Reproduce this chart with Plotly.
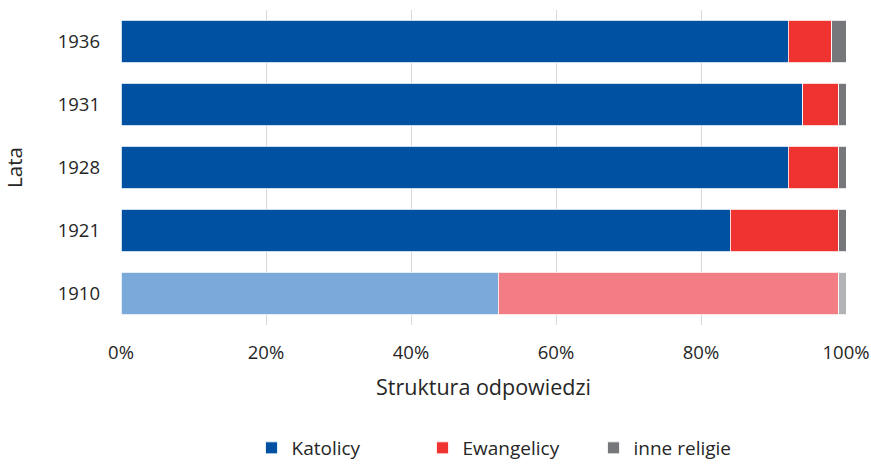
import plotly.graph_objects as go

years = ["1910", "1921", "1928", "1931", "1936"]
katolicy = [52, 84, 92, 94, 92]
ewangelicy = [47, 15, 7, 5, 6]
inne = [1, 1, 1, 1, 2]
x_ticks = [0, 20, 40, 60, 80, 100]
x_tick_labels = ["0%", "20%", "40%", "60%", "80%", "100%"]

series = [
    ("Katolicy", katolicy, "#0051A2", "#7BA9D9"),
    ("Ewangelicy", ewangelicy, "#EE3330", "#F27D84"),
    ("inne religie", inne, "#76777B", "#B1B3B6"),
]

FONT = "Open Sans, Liberation Sans, Arial, sans-serif"

fig = go.Figure()
for name, vals, col, light in series:
    dark_idx = [i for i, y in enumerate(years) if y != "1910"]
    light_idx = [i for i, y in enumerate(years) if y == "1910"]
    fig.add_trace(go.Bar(
        y=[years[i] for i in dark_idx], x=[vals[i] for i in dark_idx],
        name=name, orientation="h", legendgroup=name,
        marker=dict(color=col, line=dict(color="white", width=0.8)),
    ))
    fig.add_trace(go.Bar(
        y=[years[i] for i in light_idx], x=[vals[i] for i in light_idx],
        name=name, orientation="h", legendgroup=name, showlegend=False,
        marker=dict(color=light, line=dict(color="white", width=0.8)),
    ))

fig.update_layout(
    barmode="stack",
    bargap=0.333,
    width=871, height=467,
    margin=dict(l=121, r=25, t=10, b=142),
    paper_bgcolor="white", plot_bgcolor="white",
    font=dict(family=FONT, size=19, color="#262626"),
    xaxis=dict(
        range=[0, 100], tickvals=x_ticks, ticktext=x_tick_labels,
        tickfont=dict(size=18.5), ticklabeloverflow="allow",
        showgrid=True, gridcolor="#D9D9D9", gridwidth=1.3, zeroline=False,
        showline=False, ticks="", automargin=False, ticklabelstandoff=14,
        title=dict(text="Struktura odpowiedzi", standoff=17, font=dict(size=21.5)),
    ),
    yaxis=dict(
        categoryorder="array", categoryarray=years, automargin=False,
        tickfont=dict(size=18.5),
        showgrid=False, showline=False, ticks="", ticklabelstandoff=20,
        title=dict(text="Lata", standoff=38, font=dict(size=20.5)),
    ),
    legend=dict(
        orientation="h", x=0.180, xanchor="left",
        yref="container", y=0.0, yanchor="bottom",
        entrywidth=126, entrywidthmode="pixels", itemwidth=30,
        traceorder="normal",
    ),
    showlegend=True,
)

# remove the browser's default 8px body margin so the 871x467 figure fills the window
fig.write_html("out.html", config={"displayModeBar": False},
               post_script="document.body.style.margin='0';")
